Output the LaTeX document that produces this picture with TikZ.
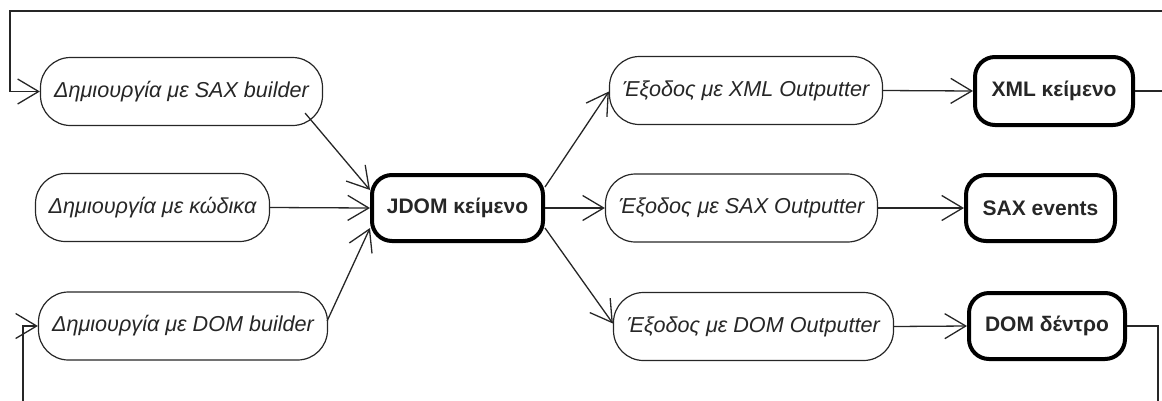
\documentclass[tikz,border=0pt]{standalone}
\usepackage{fontspec}
\setmainfont{Liberation Sans}
\usetikzlibrary{arrows.meta,calc}
\begin{document}
\begin{tikzpicture}[x=1pt,y=-1pt,
  every node/.style={inner sep=0pt, align=center, text=black!85},
  actbox/.style={draw=black!85, line width=1.2pt, rounded corners=30pt,
    minimum height=68pt, font=\fontsize{21.6}{25}\selectfont\itshape},
  docbox/.style={draw=black, line width=4pt, rounded corners=20pt,
    minimum height=66pt, font=\fontsize{21}{25}\selectfont\bfseries},
  flow/.style={draw=black!85, line width=1.3pt,
    -{Straight Barb[length=21pt,width=25pt]}}
]
\useasboundingbox (0,0) rectangle (1162,400);
\clip (0,0) rectangle (1162,400);

% ways of building a document
\node[actbox, minimum width=282pt] (sax) at (181.5,91.5) {Δημιουργία με SAX builder};
\node[actbox, minimum width=234pt] (code) at (152.5,207.5) {Δημιουργία με κώδικα};
\node[actbox, minimum width=289pt] (dombuilder) at (183,326) {Δημιουργία με DOM builder};

% the document itself
\node[docbox, minimum width=171pt] (jdom) at (457.5,208) {JDOM κείμενο};

% ways of writing it out
\node[actbox, minimum width=273pt] (xmlout) at (746,90.5) {Έξοδος με XML Outputter};
\node[actbox, minimum width=272pt] (saxout) at (741.5,208) {Έξοδος με SAX Outputter};
\node[actbox, minimum width=280pt] (domout) at (753.5,326.5) {Έξοδος με DOM Outputter};

% results
\node[docbox, minimum width=158pt, minimum height=68pt] (xml) at (1054,91) {XML κείμενο};
\node[docbox, minimum width=149pt] (saxev) at (1040.5,208) {SAX events};
\node[docbox, minimum width=156pt] (domtree) at (1047,326) {DOM δέντρο};

% inputs to the document
\draw[flow] ($(sax.south east)+(-18,-13)$) -- ($(jdom.north west)+(0,17)$);
\draw[flow] (code.east) -- (jdom.west);
\draw[flow] ($(dombuilder.east)+(-1,-5)$) -- ($(jdom.south west)+(0,-15)$);

% outputs of the document
\draw[flow] ($(jdom.north east)+(0,14)$) -- ($(xmlout.west)+(0,1)$);
\draw[flow] (jdom.east) -- (saxout.west);
\draw[flow] ($(jdom.south east)+(0,-15)$) -- ($(domout.west)+(0,-3)$);

\draw[flow] (xmlout.east) -- (xml.west);
\draw[flow] (saxout.east) -- (saxev.west);
\draw[flow] (domout.east) -- (domtree.west);

% round trips back to the builders
\coordinate (topright) at (1175,11);
\coordinate (topleft) at (10,11);
\draw[flow] (xml.east) -| (topright) -- (topleft) |- (sax.west);

\coordinate (botright) at (1158,420);
\coordinate (botleft) at (23,420);
\draw[flow] (domtree.east) -| (botright) -- (botleft) |- (dombuilder.west);
\end{tikzpicture}
\end{document}
